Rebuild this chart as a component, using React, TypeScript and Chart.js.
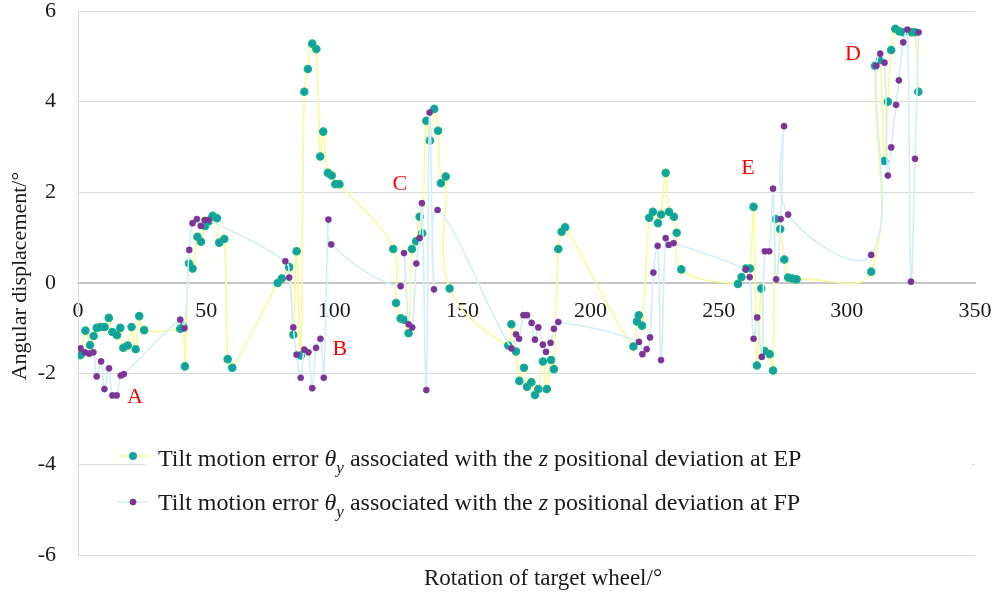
import React, { useEffect, useRef } from "react";
import { Chart, registerables } from "chart.js";

Chart.register(...registerables);

// ---- Data ----
const epRotation = [
  1.0, 2.9, 4.7, 6.1, 7.3, 8.8, 10.4, 12.0, 13.4, 15.2,
  16.5, 17.7, 19.4, 20.9, 22.5, 23.9, 25.8, 39.9, 41.1, 41.7,
  43.3, 44.7, 46.6, 48.0, 49.6, 51.2, 52.5, 54.2, 55.1, 57.1,
  58.4, 60.2, 77.9, 79.5, 82.4, 84.0, 85.3, 86.9, 88.3, 89.7,
  91.4, 93.0, 94.5, 95.7, 97.5, 99.0, 100.4, 102.0, 123.0, 124.1,
  125.9, 127.2, 129.0, 130.3, 131.9, 133.3, 134.3, 135.9, 137.3, 139.0,
  140.5, 141.6, 143.5, 145.0, 167.9, 169.1, 170.9, 172.2, 174.0, 175.2,
  176.9, 178.3, 179.6, 181.4, 182.9, 184.6, 185.7, 187.4, 188.7, 190.1,
  216.7, 218.1, 218.8, 220.1, 222.9, 224.3, 226.3, 227.5, 229.3, 230.6,
  232.5, 233.6, 235.4, 257.5, 258.9, 260.6, 262.2, 263.6, 264.9, 266.6,
  267.9, 269.9, 271.2, 272.2, 274.0, 275.6, 277.1, 278.7, 280.4, 309.5,
  311.0, 312.9, 314.6, 316.0, 317.3, 318.9, 320.5, 322.0, 325.3, 326.6,
  327.9,
];
const epAngle = [
  -1.59, -1.05, -1.37, -1.17, -0.99, -0.97, -0.97, -0.77, -1.08, -1.15,
  -0.99, -1.43, -1.38, -0.97, -1.46, -0.73, -1.04, -1.01, -0.96, -1.84,
  0.43, 0.32, 1.02, 0.91, 1.26, 1.37, 1.48, 1.43, 0.89, 0.97,
  -1.68, -1.87, 0.0, 0.1, 0.35, -1.14, 0.7, -1.6, 4.22, 4.72,
  5.28, 5.16, 2.79, 3.34, 2.43, 2.37, 2.18, 2.18, 0.75, -0.44,
  -0.78, -0.81, -1.11, 0.75, 0.92, 1.46, 1.1, 3.58, 3.14, 3.84,
  3.36, 2.2, 2.35, -0.12, -1.38, -0.91, -1.51, -2.16, -1.87, -2.29,
  -2.19, -2.47, -2.34, -1.73, -2.34, -1.7, -1.9, 0.75, 1.13, 1.23,
  -1.4, -0.85, -0.71, -0.94, 1.44, 1.57, 1.32, 1.51, 2.43, 1.57,
  1.46, 1.11, 0.3, -0.02, 0.13, 0.32, 0.32, 1.68, -1.82, -0.12,
  -1.5, -1.57, -1.93, 1.41, 1.19, 0.52, 0.12, 0.1, 0.08, 0.25,
  4.79, 4.92, 2.69, 4.0, 5.14, 5.61, 5.55, 5.53, 5.53, 5.53,
  4.22,
];

const fpRotation = [
  1.0, 2.7, 4.4, 6.0, 7.3, 9.0, 10.3, 12.1, 13.4, 15.1,
  16.7, 17.9, 39.9, 41.5, 43.4, 44.7, 46.4, 47.9, 49.4, 51.0,
  80.9, 82.4, 84.0, 85.3, 86.9, 88.3, 89.9, 91.4, 92.9, 94.6,
  95.9, 97.7, 98.8, 125.9, 127.2, 129.0, 130.4, 132.0, 133.3, 134.2,
  135.9, 137.2, 138.9, 140.3, 169.1, 170.9, 172.1, 173.8, 175.2, 177.0,
  178.3, 179.6, 181.4, 182.6, 184.4, 185.7, 187.4, 218.9, 220.2, 221.9,
  223.2, 224.5, 226.2, 227.5, 229.3, 230.5, 232.4, 260.6, 262.1, 263.6,
  265.0, 266.8, 268.0, 269.7, 271.2, 272.4, 274.2, 275.5, 277.1, 309.5,
  311.5, 313.0, 314.7, 316.0, 317.3, 319.2, 320.3, 322.0, 323.6, 325.0,
  326.6, 328.0,
];
const fpAngle = [
  -1.44, -1.53, -1.56, -1.53, -2.06, -1.73, -2.34, -1.88, -2.48, -2.48,
  -2.04, -2.01, -0.81, -1.0, 0.73, 1.32, 1.41, 1.26, 1.39, 1.39,
  0.48, 0.12, -0.98, -1.58, -2.09, -1.47, -1.53, -2.32, -1.43, -1.23,
  -2.09, 1.4, 0.85, -0.07, 0.66, -0.91, -0.98, 0.43, 0.99, 1.76,
  -2.36, 3.76, -0.14, 1.61, -1.44, -1.13, -1.23, -0.71, -0.71, -0.88,
  -1.25, -0.98, -1.36, -1.52, -1.32, -1.01, -0.86, -1.3, -1.57, -1.46,
  -1.2, 0.23, 0.82, -1.7, 0.99, 0.84, 0.88, 0.3, 0.13, -1.23,
  -0.76, -1.63, 0.7, 0.7, 2.08, 0.08, 1.41, 3.46, 1.51, 0.62,
  4.79, 5.06, 4.86, 2.37, 2.99, 3.93, 4.47, 5.31, 5.59, 0.03,
  2.74, 5.53,
];

const xRange = [0, 350];
const xStep = 50;
const yRange = [-6, 6];
const yStep = 2;

const annotationLetters = ["A", "B", "C", "D", "E"];
const annotationRotation = [22.2, 102.2, 125.6, 302.4, 261.4];
const annotationAngle = [-2.51, -1.46, 2.18, 5.05, 2.54];

const seriesSuffix = ["EP", "FP"];
const xTitle = "Rotation of target wheel/°";
const yTitle = "Angular displacement/°";

// ---- Styles ----
const SERIF = '"Liberation Serif", "Times New Roman", serif';
const EP_LINE = "#fafa9c";
const EP_FILL = "#10a0a6";
const EP_EDGE = "#19b67c";
const FP_LINE = "#d3eefa";
const FP_FILL = "#7a3596";

const legendPieces = (suffix: string, size: number) => [
  { text: "Tilt motion error ", font: `${size}px ${SERIF}`, dy: 0 },
  { text: "θ", font: `italic ${size}px ${SERIF}`, dy: 0 },
  { text: "y", font: `italic ${Math.round(size * 0.72)}px ${SERIF}`, dy: size * 0.28 },
  { text: " associated with the ", font: `${size}px ${SERIF}`, dy: 0 },
  { text: "z", font: `italic ${size}px ${SERIF}`, dy: 0 },
  { text: " positional deviation at " + suffix, font: `${size}px ${SERIF}`, dy: 0 },
];

function measurePieces(ctx: CanvasRenderingContext2D, pieces: any[]) {
  let w = 0;
  for (const p of pieces) {
    ctx.font = p.font;
    w += ctx.measureText(p.text).width;
  }
  return w;
}

const decorPlugin = {
  id: "decor",
  afterDraw(chart: any) {
    const ctx: CanvasRenderingContext2D = chart.ctx;
    const xs = chart.scales.x;
    const ys = chart.scales.y;
    const area = chart.chartArea;
    ctx.save();

    // annotation letters
    ctx.fillStyle = "#ff0000";
    ctx.font = `22px ${SERIF}`;
    ctx.textAlign = "center";
    ctx.textBaseline = "middle";
    annotationLetters.forEach((t, i) => {
      ctx.fillText(t, xs.getPixelForValue(annotationRotation[i]), ys.getPixelForValue(annotationAngle[i]));
    });

    // legend
    ctx.fillStyle = "#ffffff";
    ctx.fillRect(145, 432, area.right - 3 - 145, 92);
    const rows = [
      { y: 466, dot: 456, line: EP_LINE, fill: EP_FILL, edge: EP_EDGE, r: 3.7 },
      { y: 510, dot: 502, line: FP_LINE, fill: FP_FILL, edge: FP_FILL, r: 3 },
    ];
    const baseSize = 22;
    const w0 = measurePieces(ctx, legendPieces(seriesSuffix[0], baseSize));
    const size = baseSize * (644 / w0);
    rows.forEach((r, i) => {
      ctx.strokeStyle = r.line;
      ctx.lineWidth = 1.5;
      ctx.beginPath();
      ctx.moveTo(118, r.dot);
      ctx.lineTo(148, r.dot);
      ctx.stroke();
      ctx.beginPath();
      ctx.arc(133, r.dot, r.r, 0, Math.PI * 2);
      ctx.fillStyle = r.fill;
      ctx.fill();
      ctx.strokeStyle = r.edge;
      ctx.lineWidth = 1;
      ctx.stroke();
      ctx.fillStyle = "#1a1a1a";
      ctx.textAlign = "left";
      ctx.textBaseline = "alphabetic";
      let cx = 158;
      for (const p of legendPieces(seriesSuffix[i], size)) {
        ctx.font = p.font;
        ctx.fillText(p.text, cx, r.y + p.dy);
        cx += ctx.measureText(p.text).width;
      }
    });

    // axis titles
    ctx.fillStyle = "#1a1a1a";
    ctx.font = `23px ${SERIF}`;
    ctx.textAlign = "left";
    ctx.textBaseline = "alphabetic";
    ctx.fillText(xTitle, 424, 585);

    ctx.translate(26, 276);
    ctx.rotate(-Math.PI / 2);
    ctx.font = `22px ${SERIF}`;
    ctx.textAlign = "center";
    ctx.fillText(yTitle, 0, 0);
    ctx.restore();
  },
};

export default function App() {
  const ref = useRef<HTMLCanvasElement | null>(null);
  useEffect(() => {
    if (!ref.current) return;
    const chart = new Chart(ref.current, {
      type: "line",
      data: {
        datasets: [
          {
            label: "FP",
            data: fpRotation.map((x, i) => ({ x, y: fpAngle[i] })),
            borderColor: FP_LINE,
            borderWidth: 1.6,
            tension: 0.4,
            pointRadius: 3.1,
            pointBackgroundColor: FP_FILL,
            pointBorderColor: FP_FILL,
            pointBorderWidth: 0.5,
          },
          {
            label: "EP",
            data: epRotation.map((x, i) => ({ x, y: epAngle[i] })),
            borderColor: EP_LINE,
            borderWidth: 1.6,
            tension: 0.4,
            pointRadius: 3.7,
            pointBackgroundColor: EP_FILL,
            pointBorderColor: EP_EDGE,
            pointBorderWidth: 1.2,
          },
        ],
      },
      options: {
        animation: false,
        responsive: false,
        maintainAspectRatio: false,
        layout: { padding: { top: 11, bottom: 39, left: 0, right: 19 } },
        plugins: { legend: { display: false }, tooltip: { enabled: false } },
        scales: {
          x: {
            type: "linear",
            min: xRange[0],
            max: xRange[1],
            position: { y: 0 } as any,
            ticks: {
              stepSize: xStep,
              padding: 17,
              color: "#1a1a1a",
              font: { family: SERIF, size: 22, lineHeight: 1 },
              maxRotation: 0,
              autoSkip: false,
            },
            grid: { display: false, drawTicks: false },
            border: { display: true, color: "#c6c6c6", width: 2 },
            afterFit: (s: any) => {
              s.paddingLeft = 0;
              s.paddingRight = 0;
              s.paddingTop = 0;
              s.paddingBottom = 0;
            },
          },
          y: {
            type: "linear",
            min: yRange[0],
            max: yRange[1],
            ticks: {
              stepSize: yStep,
              padding: 22,
              color: "#1a1a1a",
              font: { family: SERIF, size: 22, lineHeight: 1 },
            },
            grid: { color: "#dadada", lineWidth: 1, drawTicks: false },
            border: { color: "#dadada", width: 1 },
            afterFit: (s: any) => {
              s.width = 78;
              s.paddingTop = 0;
              s.paddingBottom = 0;
              s.paddingLeft = 0;
              s.paddingRight = 0;
            },
          },
        },
      },
      plugins: [decorPlugin],
    });
    return () => chart.destroy();
  }, []);
  return (
    <div style={{ position: "fixed", left: 0, top: 0, width: 994, height: 594, background: "#fff" }}>
      <canvas ref={ref} width={994} height={594} style={{ display: "block" }} />
    </div>
  );
}
